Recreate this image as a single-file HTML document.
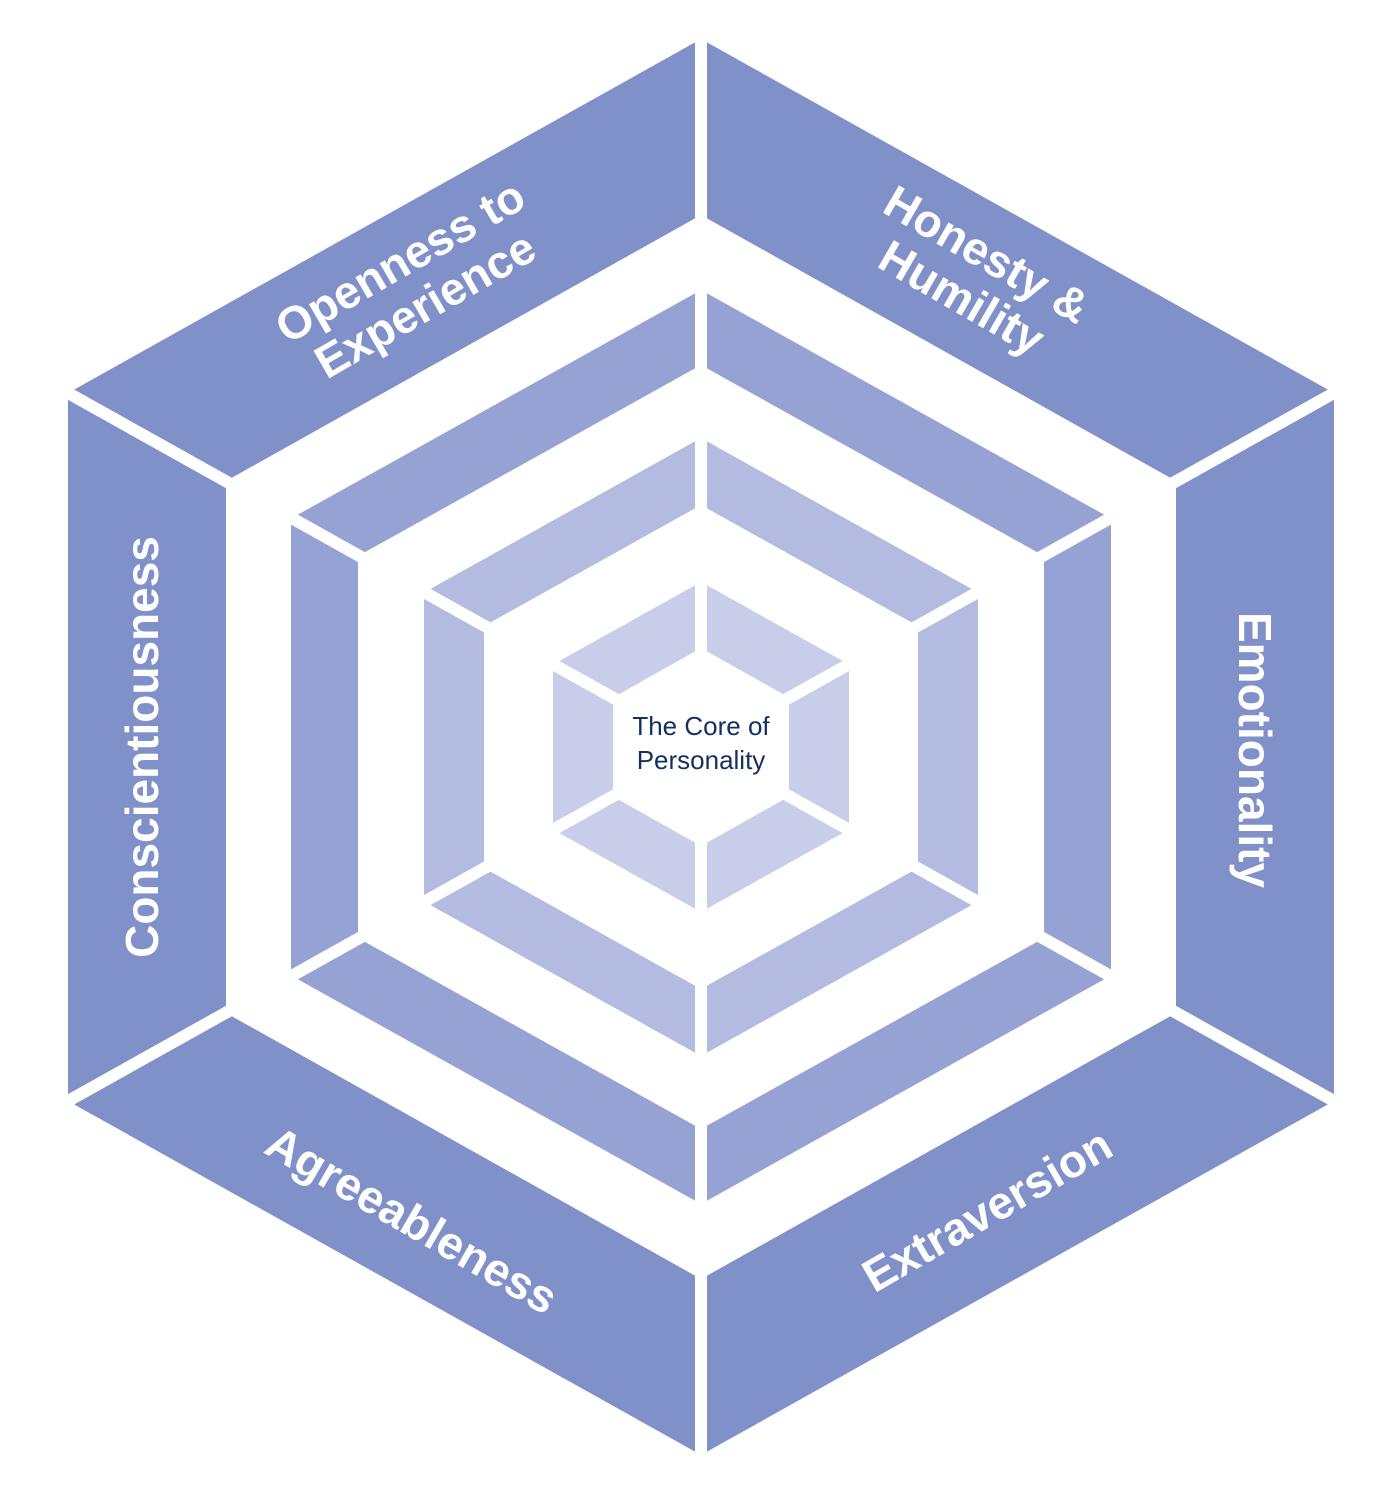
<!DOCTYPE html>
<html><head><meta charset="utf-8"><style>
html,body{margin:0;padding:0;background:#fff;}
svg{display:block;}
.l{font-family:"Liberation Sans",sans-serif;font-weight:bold;font-size:46px;fill:#fff;text-anchor:middle;}
</style></head><body>
<svg width="1400" height="1501" viewBox="0 0 1400 1501" xmlns="http://www.w3.org/2000/svg">
<rect width="1400" height="1501" fill="#fff"/>
<path fill-rule="evenodd" fill="#8090c8" d="M701,39 L1334,393 L1334,1101 L701,1455 L68,1101 L68,393 Z M701,215 L1176,481 L1176,1013 L701,1279 L226,1013 L226,481 Z"/>
<path fill-rule="evenodd" fill="#96a2d3" d="M701,290 L1111,518.5 L1111,975.5 L701,1204 L291,975.5 L291,518.5 Z M701,365 L1044,556 L1044,938 L701,1129 L358,938 L358,556 Z"/>
<path fill-rule="evenodd" fill="#b3bbe1" d="M701,438 L978,592.5 L978,901.5 L701,1056 L424,901.5 L424,592.5 Z M701,505 L918,626 L918,868 L701,989 L484,868 L484,626 Z"/>
<path fill-rule="evenodd" fill="#c8cde9" d="M701,582 L849,664.5 L849,829.5 L701,912 L553,829.5 L553,664.5 Z M701,648 L789,697.5 L789,796.5 L701,846 L613,796.5 L613,697.5 Z"/>
<g stroke="#fff" stroke-width="12">
<line x1="701" y1="747" x2="701" y2="20"/>
<line x1="701" y1="747" x2="701" y2="1480"/>
<line x1="701" y1="747" x2="1350" y2="384"/>
<line x1="701" y1="747" x2="52" y2="384"/>
<line x1="701" y1="747" x2="1350" y2="1110"/>
<line x1="701" y1="747" x2="52" y2="1110"/>
</g>
<text x="701" y="735" font-family="Liberation Sans,sans-serif" font-size="26" fill="#14305e" text-anchor="middle">The Core of</text>
<text x="701" y="769" font-family="Liberation Sans,sans-serif" font-size="26" fill="#14305e" text-anchor="middle">Personality</text>
<g transform="translate(412,282) rotate(-30)"><text class="l" y="-8">Openness to</text><text class="l" y="42">Experience</text></g>
<g transform="translate(975,275) rotate(30)"><text class="l" y="-8">Honesty &amp;</text><text class="l" y="42">Humility</text></g>
<g transform="translate(1255,750) rotate(90)"><text class="l" y="16">Emotionality</text></g>
<g transform="translate(142,747) rotate(-90)"><text class="l" y="16">Conscientiousness</text></g>
<g transform="translate(412,1220) rotate(30)"><text class="l" y="16">Agreeableness</text></g>
<g transform="translate(987,1210) rotate(-30)"><text class="l" y="16">Extraversion</text></g>
</svg>
</body></html>
